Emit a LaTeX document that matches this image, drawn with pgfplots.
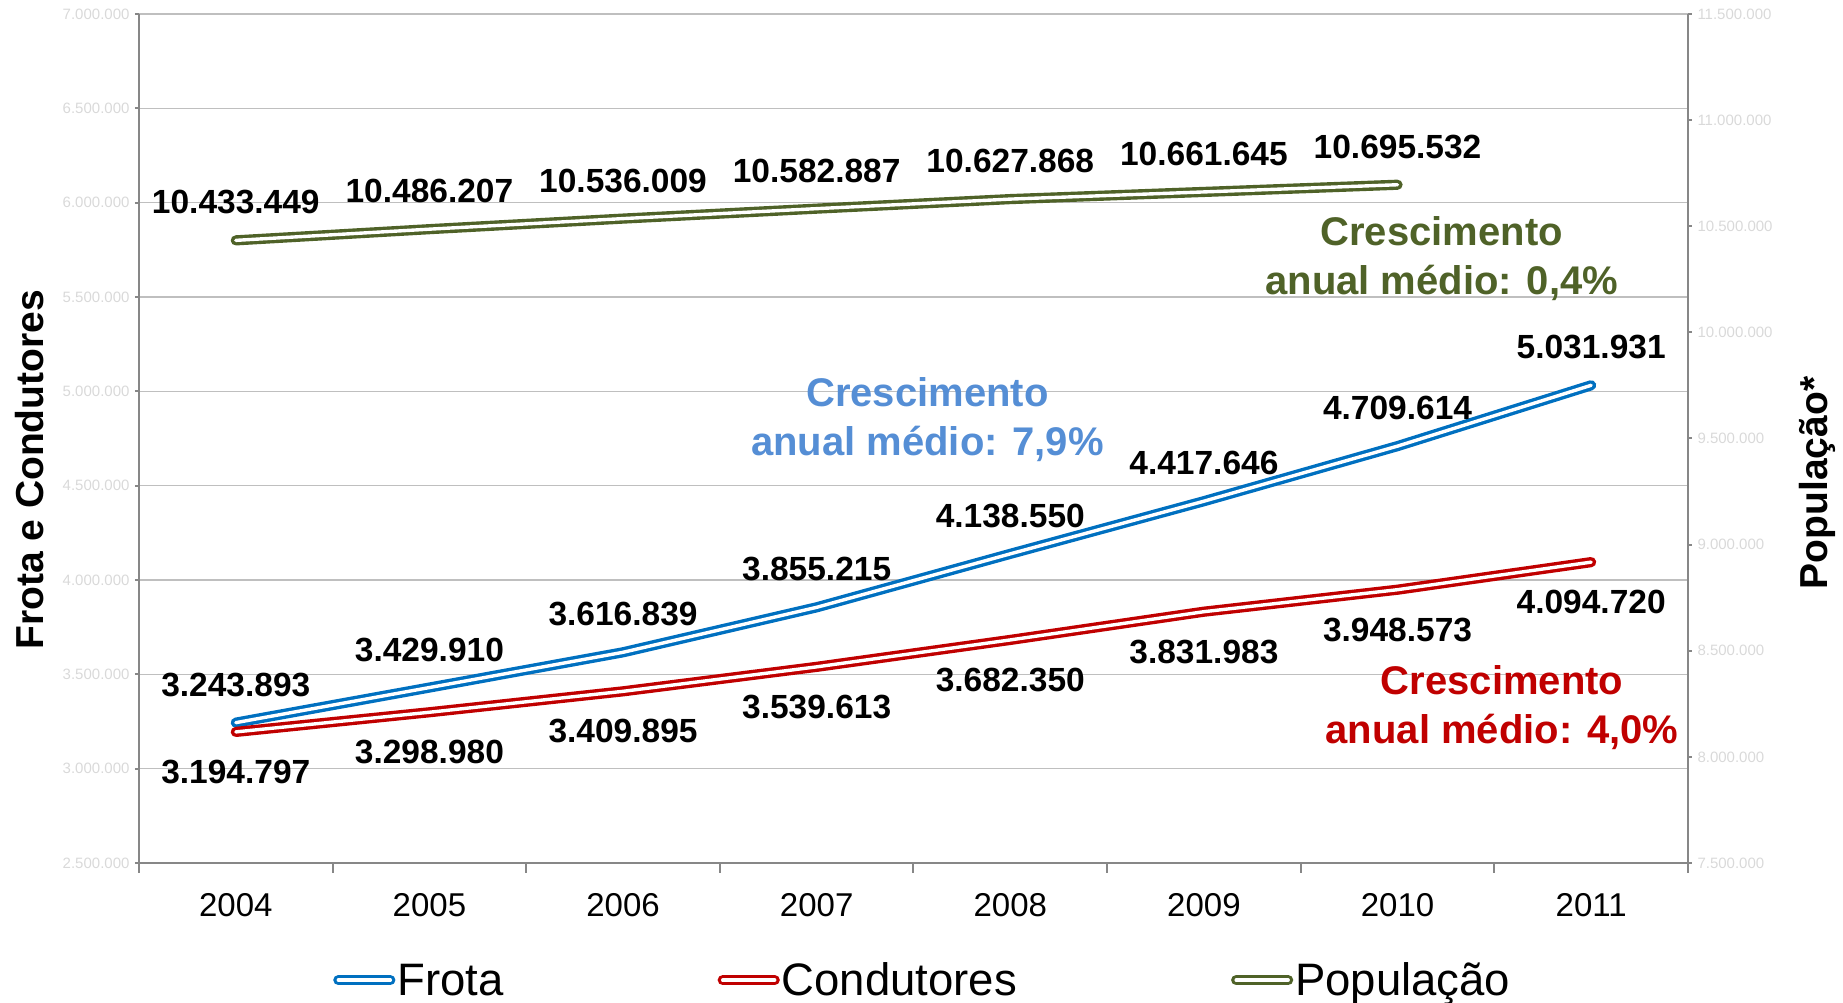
\documentclass[border=0pt]{standalone}
\usepackage{pgfplots}
\pgfplotsset{compat=1.18}
\usepackage{pgfplotstable}
\usepackage{fontspec}
\setmainfont{Liberation Sans}
\definecolor{frota}{HTML}{0070C0}
\definecolor{cond}{HTML}{C00000}
\definecolor{pop}{HTML}{4F6228}
\definecolor{annblue}{HTML}{558ED5}
\definecolor{ticklbl}{HTML}{D9D9D9}
\definecolor{axisgray}{HTML}{878787}
\definecolor{gridgray}{HTML}{BFBFBF}

\pgfplotstableread{
x y label
0 3243893 3.243.893
1 3429910 3.429.910
2 3616839 3.616.839
3 3855215 3.855.215
4 4138550 4.138.550
5 4417646 4.417.646
6 4709614 4.709.614
7 5031931 5.031.931
}\tabfrota
\pgfplotstableread{
x y label
0 3194797 3.194.797
1 3298980 3.298.980
2 3409895 3.409.895
3 3539613 3.539.613
4 3682350 3.682.350
5 3831983 3.831.983
6 3948573 3.948.573
7 4094720 4.094.720
}\tabcond
\pgfplotstableread{
x y label
0 10433449 10.433.449
1 10486207 10.486.207
2 10536009 10.536.009
3 10582887 10.582.887
4 10627868 10.627.868
5 10661645 10.661.645
6 10695532 10.695.532
}\tabpop

\tikzset{
  dbl/.style={line width=3.4pt, double=white, double distance=3.4pt, line cap=round, line join=round},
  frotastyle/.style={dbl, draw=frota},
  condstyle/.style={dbl, draw=cond},
  popstyle/.style={dbl, draw=pop},
}
\pgfplotsset{
  common/.style={
    scale only axis, width=1549pt, height=849pt,
    xmin=-0.5, xmax=7.5,
    axis line style={axisgray, line width=2pt, -},
    tick style={axisgray, line width=2pt},
    tick align=outside,
  },
  ynum/.style={
    scaled y ticks=false,
    yticklabel style={text=ticklbl, font=\fontsize{15}{18}\selectfont,
      /pgf/number format/fixed, /pgf/number format/precision=0,
      /pgf/number format/1000 sep={.}, /pgf/number format/assume math mode=true},
  },
  dlab/.style={
    nodes near coords, point meta=explicit symbolic,
    every node near coord/.append style={font=\fontsize{33.5}{40}\bfseries\selectfont, text=black, anchor=center, yshift=#1},
  },
}

\begin{document}
\begin{tikzpicture}
\useasboundingbox (-139pt,-140pt) rectangle (1704pt,863pt);
% left axis with grid and Frota / Condutores
\begin{axis}[common, ynum,
  axis x line=none, axis y line*=left,
  ymin=2500000, ymax=7000000,
  ytick={2500000,3000000,3500000,4000000,4500000,5000000,5500000,6000000,6500000,7000000},
  major tick length=4pt,
  ymajorgrids, grid style={gridgray, line width=1.6pt},
  yticklabel style={anchor=east, xshift=-2pt},
  ylabel={Frota e Condutores},
  ylabel style={at={(axis description cs:-0.0704,0.463)}, anchor=center, font=\fontsize{39}{44}\bfseries\selectfont},
  legend columns=3,
  legend image code/.code={\draw[#1] (0pt,0pt) -- (52pt,0pt);},
  legend style={at={(axis description cs:0.506,-0.138)}, anchor=center, draw=none, fill=none,
    font=\fontsize{45.5}{52}\selectfont, nodes={inner sep=2pt},
    /tikz/every even column/.append style={column sep=212pt}},
]
\addplot[frotastyle, dlab=38pt] table[x=x, y=y, meta=label] {\tabfrota};
\addlegendentry{Frota}
\addplot[condstyle, dlab=-40pt] table[x=x, y=y, meta=label] {\tabcond};
\addlegendentry{Condutores}
\addlegendimage{popstyle}
\addlegendentry{População}
\node[font=\fontsize{40}{49}\bfseries\selectfont, text=annblue, align=center] at (rel axis cs:0.509,0.522) {Crescimento\\anual médio: 7,9\%};
\node[font=\fontsize{40}{49}\bfseries\selectfont, text=pop, align=center] at (rel axis cs:0.841,0.712) {Crescimento\\anual médio: 0,4\%};
\node[font=\fontsize{40}{49}\bfseries\selectfont, text=cond, align=center] at (rel axis cs:0.880,0.183) {Crescimento\\anual médio: 4,0\%};
\end{axis}
% x axis
\begin{axis}[common,
  axis x line*=bottom, axis y line=none,
  ymin=0, ymax=1,
  xtick={-0.5,0.5,1.5,2.5,3.5,4.5,5.5,6.5,7.5},
  x tick label as interval,
  xticklabels={2004,2005,2006,2007,2008,2009,2010,2011},
  major tick length=10pt,
  xticklabel style={font=\fontsize{33}{40}\selectfont, text=black, anchor=base, yshift=-44pt},
]
\end{axis}
% right axis population
\begin{axis}[common, ynum,
  axis x line=none, axis y line*=right,
  ymin=7500000, ymax=11500000,
  ytick={7500000,8000000,8500000,9000000,9500000,10000000,10500000,11000000,11500000},
  major tick length=4pt,
  yticklabel style={anchor=west, xshift=2pt},
  ylabel={População*},
  ylabel style={at={(axis description cs:1.0833,0.4476)}, anchor=center, rotate=0, font=\fontsize{39}{44}\bfseries\selectfont},
]
\addplot[popstyle, dlab=38pt] table[x=x, y=y, meta=label] {\tabpop};
\end{axis}
\end{tikzpicture}
\end{document}
